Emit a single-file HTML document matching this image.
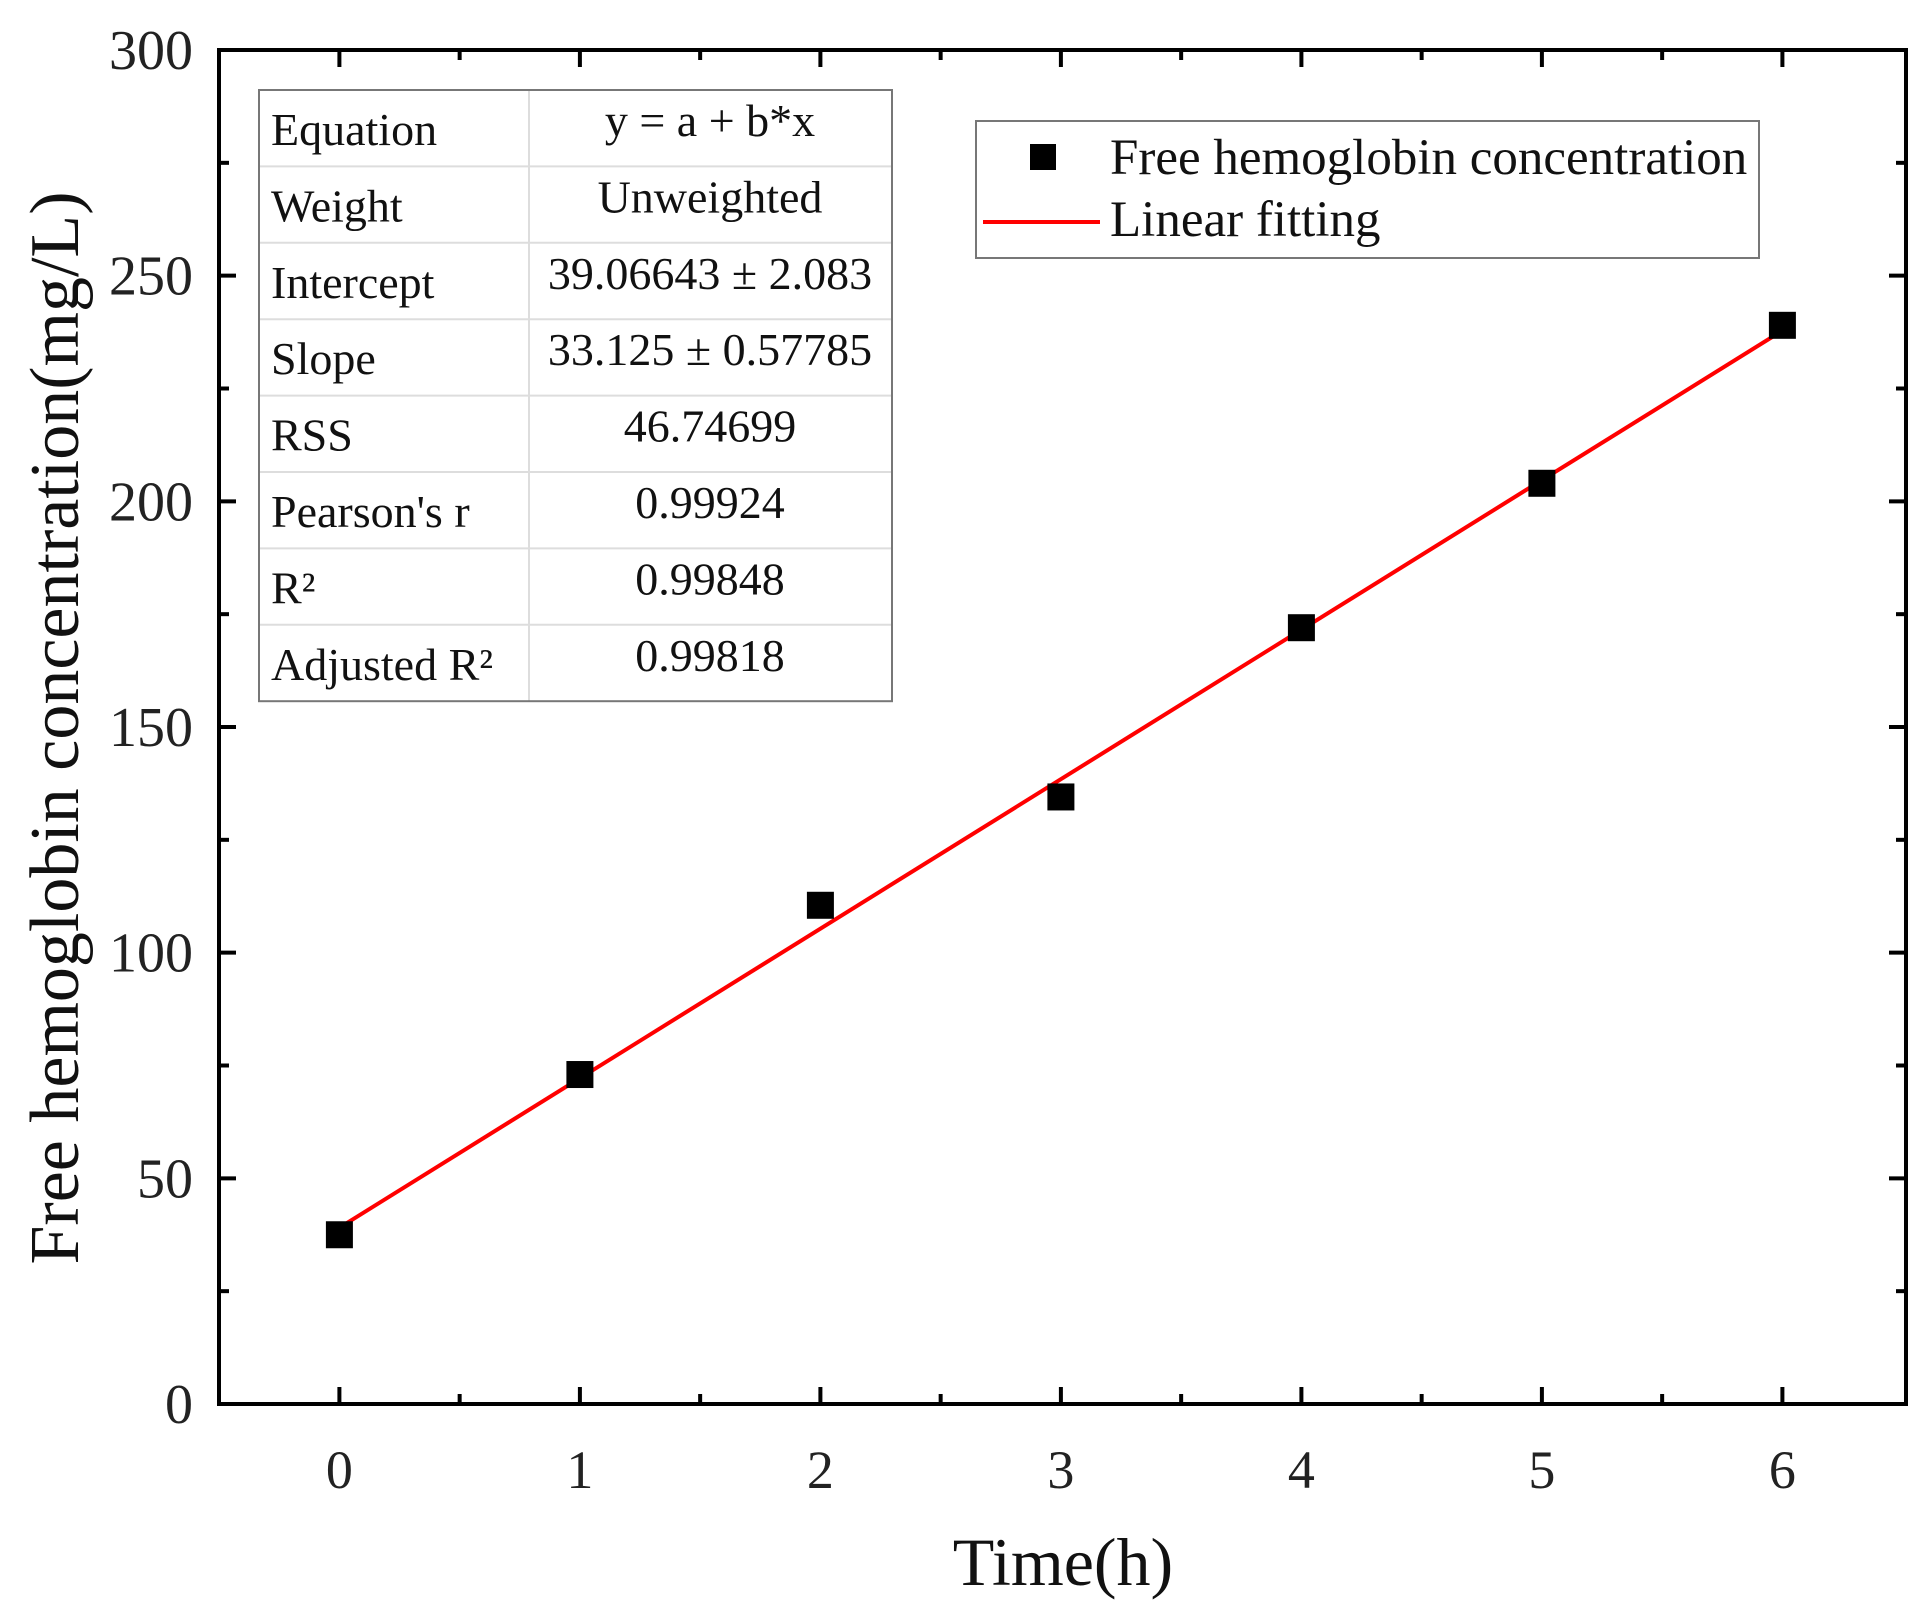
<!DOCTYPE html>
<html><head><meta charset="utf-8"><style>
html,body{margin:0;padding:0;background:#fff}
svg{display:block;font-family:"Liberation Serif",serif}
</style></head><body>
<svg id="chart" width="1932" height="1618" viewBox="0 0 1932 1618" xmlns="http://www.w3.org/2000/svg">
<g id="grid"></g>
<g id="marks"></g>
<g id="table"></g>
<g id="legend"></g>
</svg>
<script>
const times = [0,1,2,3,4,5,6];
const hemoglobin = [37.5,73,110.5,134.5,172,204,239];
const intercept = 39.06643;
const slope = 33.125;
const xTicks = [0,1,2,3,4,5,6];
const yTicks = [0,50,100,150,200,250,300];
const tableLabels = ["Equation","Weight","Intercept","Slope","RSS","Pearson's r","R²","Adjusted R²"];
const tableValues = ["y = a + b*x","Unweighted","39.06643 ± 2.083","33.125 ± 0.57785","46.74699","0.99924","0.99848","0.99818"];

const NS="http://www.w3.org/2000/svg";
const L=219,R=1906,T=50,B=1404;
const X0=339.4,XU=240.5;
function sx(v){return X0+v*XU;}
function sy(v){return B-(v/300)*(B-T);}
function mk(tag,attrs,parent,text){const e=document.createElementNS(NS,tag);for(const k in attrs)e.setAttribute(k,attrs[k]);if(text!==undefined)e.textContent=text;parent.appendChild(e);return e;}
const g=document.getElementById('grid');
const m=document.getElementById('marks');

let fr=mk('rect',{x:L,y:T,width:R-L,height:B-T,fill:'none',stroke:'#000','stroke-width':4},g);



for(let v=0;v<=300;v+=25){
  const y=sy(v);const major=v%50===0;const len=major?17:10;
  let t1=mk('line',{x1:L,x2:L+len,y1:y,y2:y,stroke:'#000','stroke-width':4},g);
  
  
  let t2=mk('line',{x1:R,x2:R-len,y1:y,y2:y,stroke:'#000','stroke-width':4},g);
  
  
}
yTicks.forEach(v=>{
  let t=mk('text',{x:193,y:sy(v)+19,'text-anchor':'end','font-size':56,fill:'#222'},g,String(v));
  
  
});
for(let v=0;v<=6;v+=0.5){
  const x=sx(v);const major=Number.isInteger(v);const len=major?17:10;
  let t1=mk('line',{x1:x,x2:x,y1:B,y2:B-len,stroke:'#000','stroke-width':4},g);
  
  
  let t2=mk('line',{x1:x,x2:x,y1:T,y2:T+len,stroke:'#000','stroke-width':4},g);
  
  
}
xTicks.forEach(v=>{
  let t=mk('text',{x:sx(v),y:1488,'text-anchor':'middle','font-size':54,fill:'#222'},g,String(v));
  
  
});
let xt=mk('text',{x:1063,y:1585,'text-anchor':'middle','font-size':68,fill:'#111'},g,'Time(h)');


let yt=mk('text',{x:0,y:0,'text-anchor':'middle','font-size':70,fill:'#111',transform:'translate(78,728) rotate(-90)'},g,'Free hemoglobin concentration(mg/L)');



const x1=times[0],x2=times[times.length-1];
let fl=mk('line',{x1:sx(x1),y1:sy(intercept+slope*x1),x2:sx(x2),y2:sy(intercept+slope*x2),stroke:'#f00','stroke-width':4},m);


times.forEach((t,i)=>{
  let p=mk('rect',{x:sx(t)-13.5,y:sy(hemoglobin[i])-13.5,width:27,height:27,fill:'#000'},m);
  
  
});

const tb=document.getElementById('table');
const TL=259,TR=892,TT=90,RH=76.4,TS=529;
tableLabels.forEach((lab,i)=>{
  const y=TT+i*RH;
  if(i>0){let ln=mk('line',{x1:TL,x2:TR,y1:y,y2:y,stroke:'#ddd','stroke-width':2},tb);
    
    }
  let a=mk('text',{x:271,y:y+55,'font-size':46,fill:'#111'},tb,lab);
  
  
  let b=mk('text',{x:710,y:y+46,'text-anchor':'middle','font-size':46,fill:'#111'},tb,tableValues[i]);
  
  
});
let cd=mk('line',{x1:TS,x2:TS,y1:TT,y2:TT+8*RH,stroke:'#ddd','stroke-width':2},tb);


let tf=mk('rect',{x:TL,y:TT,width:TR-TL,height:8*RH,fill:'none',stroke:'#777','stroke-width':2},tb);



const lg=document.getElementById('legend');
let lb=mk('rect',{x:976,y:121,width:783,height:137,fill:'#fff',stroke:'#777','stroke-width':2},lg);


let lm=mk('rect',{x:1030,y:144,width:26,height:26,fill:'#000'},lg);


let lt1=mk('text',{x:1110,y:174,'font-size':51,fill:'#111'},lg,'Free hemoglobin concentration');


let ll=mk('line',{x1:983,x2:1100,y1:222,y2:222,stroke:'#f00','stroke-width':4},lg);


let lt2=mk('text',{x:1110,y:236,'font-size':51,fill:'#111'},lg,'Linear fitting');


</script>
</body></html>
